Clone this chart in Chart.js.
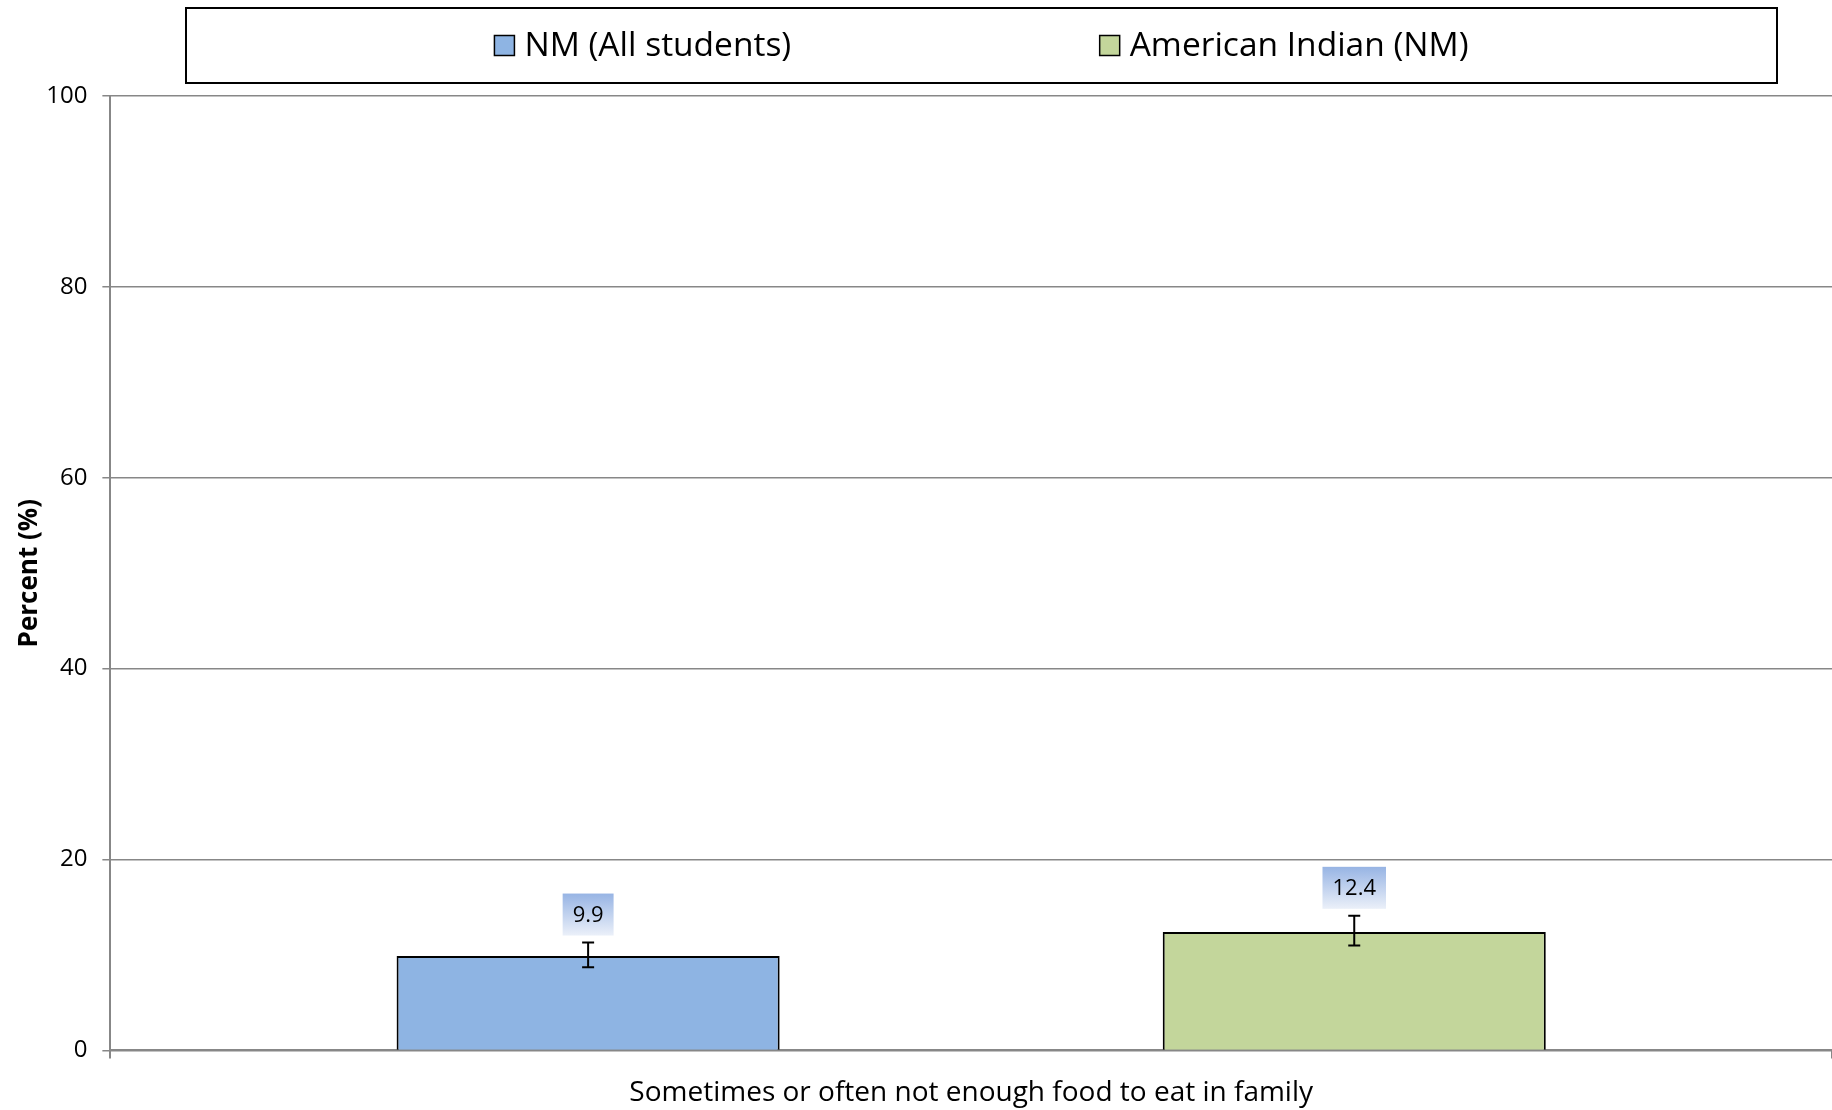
<!DOCTYPE html>
<html>
<head>
<meta charset="utf-8">
<title>Not enough food to eat in family</title>
<script src="https://cdn.jsdelivr.net/npm/chart.js@4/dist/chart.umd.min.js"></script>
<style>
  html, body { margin: 0; padding: 0; background: #fff; overflow: hidden; }
  canvas { display: block; }
</style>
</head>
<body>
<canvas id="chart" width="1832" height="1110"></canvas>
<script>
// Datos del grafico
const categories = ['Sometimes or often not enough food to eat in family'];
const seriesNames = ['NM (All students)', 'American Indian (NM)'];
const nmAll = [9.9];
const americanIndian = [12.4];
// intervalos de confianza (barras de error)
const nmAllLow = [8.7];
const nmAllHigh = [11.3];
const americanIndianLow = [11.0];
const americanIndianHigh = [14.1];
const yTicks = [0, 20, 40, 60, 80, 100];

const fillColors = ['#8EB4E3', '#C3D69B'];
const gridColor = '#878787';
const fontFamily = "'Open Sans', 'Noto Sans', sans-serif";

const errLow = [nmAllLow, americanIndianLow];
const errHigh = [nmAllHigh, americanIndianHigh];

// Leyenda con recuadro, items repartidos a lo ancho
const boxLegend = {
  id: 'boxLegend',
  afterDraw(chart) {
    const c = chart.ctx;
    const left = 186, top = 8, right = chart.width - 55, bottom = 83;
    c.save();
    c.strokeStyle = '#000';
    c.lineWidth = 2;
    c.strokeRect(left, top, right - left, bottom - top);
    c.font = '33.5px ' + fontFamily;
    c.textBaseline = 'middle';
    c.textAlign = 'left';
    const sq = 20, gap = 10;
    const widths = seriesNames.map(n => sq + gap + c.measureText(n).width);
    const space = (right - left - widths.reduce((a, b) => a + b, 0)) / (widths.length + 1);
    let x = left + space;
    const cy = (top + bottom) / 2;
    seriesNames.forEach((name, i) => {
      c.fillStyle = fillColors[i];
      c.fillRect(x, cy - sq / 2, sq, sq);
      c.lineWidth = 1.5;
      c.strokeStyle = '#000';
      c.strokeRect(x, cy - sq / 2, sq, sq);
      c.fillStyle = '#000';
      c.fillText(name, x + sq + gap, cy + 1);
      x += widths[i] + space;
    });
    c.restore();
  }
};

// Barras de error y etiquetas de valor
const errorBars = {
  id: 'errorBars',
  afterDatasetsDraw(chart) {
    const c = chart.ctx;
    const y = chart.scales.y;
    c.save();
    chart.data.datasets.forEach((ds, i) => {
      const meta = chart.getDatasetMeta(i);
      meta.data.forEach((bar, j) => {
        const yLo = y.getPixelForValue(errLow[i][j]);
        const yHi = y.getPixelForValue(errHigh[i][j]);
        c.strokeStyle = '#000';
        c.lineWidth = 2;
        c.beginPath();
        c.moveTo(bar.x, yLo); c.lineTo(bar.x, yHi);
        c.moveTo(bar.x - 6, yLo); c.lineTo(bar.x + 6, yLo);
        c.moveTo(bar.x - 6, yHi); c.lineTo(bar.x + 6, yHi);
        c.stroke();

        const txt = ds.data[j].toFixed(1);
        c.font = '22px ' + fontFamily;
        const w = c.measureText(txt).width + 20;
        const h = 42;
        const bBottom = yHi - 7;
        const bTop = bBottom - h;
        const g = c.createLinearGradient(0, bTop, 0, bBottom);
        g.addColorStop(0, '#97B4E4');
        g.addColorStop(1, '#EBF0F9');
        c.fillStyle = g;
        c.fillRect(bar.x - w / 2, bTop, w, h);
        c.fillStyle = '#000';
        c.textAlign = 'center';
        c.textBaseline = 'middle';
        c.fillText(txt, bar.x, bTop + h / 2 + 1);
      });
    });
    c.restore();
  }
};

const ctx = document.getElementById('chart').getContext('2d');
const chart = new Chart(ctx, {
  type: 'bar',
  data: {
    labels: categories,
    datasets: [
      {
        label: seriesNames[0],
        data: nmAll,
        backgroundColor: fillColors[0],
        borderColor: '#000',
        borderWidth: 2,
      },
      {
        label: seriesNames[1],
        data: americanIndian,
        backgroundColor: fillColors[1],
        borderColor: '#000',
        borderWidth: 2,
      },
    ],
  },
  options: {
    responsive: false,
    animation: false,
    devicePixelRatio: 1,
    layout: { padding: { top: 96, left: 14, right: -9, bottom: -18 } },
    datasets: { bar: { categoryPercentage: 0.89, barPercentage: 0.5 } },
    plugins: {
      legend: { display: false },
      tooltip: { enabled: false },
    },
    scales: {
      x: {
        grid: { display: true, drawOnChartArea: false, drawTicks: true, tickLength: 8, color: gridColor, lineWidth: 2 },
        border: { color: gridColor, width: 2 },
        ticks: { color: '#000', font: { family: fontFamily, size: 28 }, padding: 18 },
      },
      y: {
        min: 0,
        max: 100,
        afterBuildTicks: (scale) => { scale.ticks = yTicks.map(v => ({ value: v })); },
        grid: { color: gridColor, lineWidth: 1.5, tickLength: 8 },
        border: { color: gridColor, width: 2 },
        ticks: { color: '#000', font: { family: fontFamily, size: 24 }, padding: 15 },
        title: {
          display: true,
          text: 'Percent (%)',
          color: '#000',
          font: { family: fontFamily, size: 26, weight: 'bold' },
          padding: { top: 0, bottom: -14 },
        },
      },
    },
  },
  plugins: [boxLegend, errorBars],
});
</script>
</body>
</html>
